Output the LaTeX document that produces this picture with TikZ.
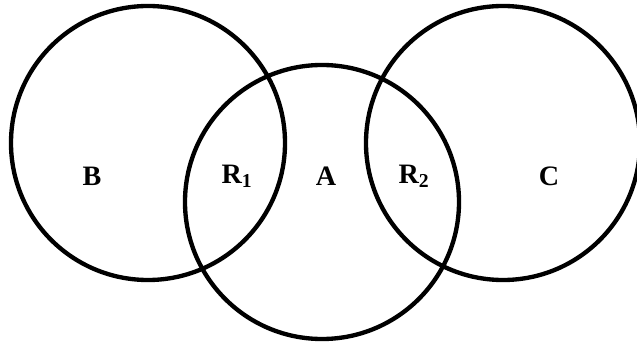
\documentclass[tikz,border=0pt]{standalone}
\usepackage{fontspec}
\setmainfont{Liberation Serif}
\usepackage{tikz}

\begin{document}
\begin{tikzpicture}[
  x=0.03cm, y=-0.03cm,
  set/.style={draw, circle, line width=0.13cm, minimum size=8.22cm, inner sep=0pt},
  region/.style={font=\fontsize{24}{28}\selectfont\bfseries}
]
\useasboundingbox (0,0) rectangle (637,343);

% the three sets
\node[set] (setB) at (148,143) {};
\node[set] (setA) at (322,202) {};
\node[set] (setC) at (503,143) {};

% region labels
\node[region] (labB) at (92,176) {B};
\node[region] (labR1) at (237,176) {R\textsubscript{1}};
\node[region] (labA) at (326,176) {A};
\node[region] (labR2) at (414,176) {R\textsubscript{2}};
\node[region] (labC) at (549,176) {C};
\end{tikzpicture}
\end{document}
